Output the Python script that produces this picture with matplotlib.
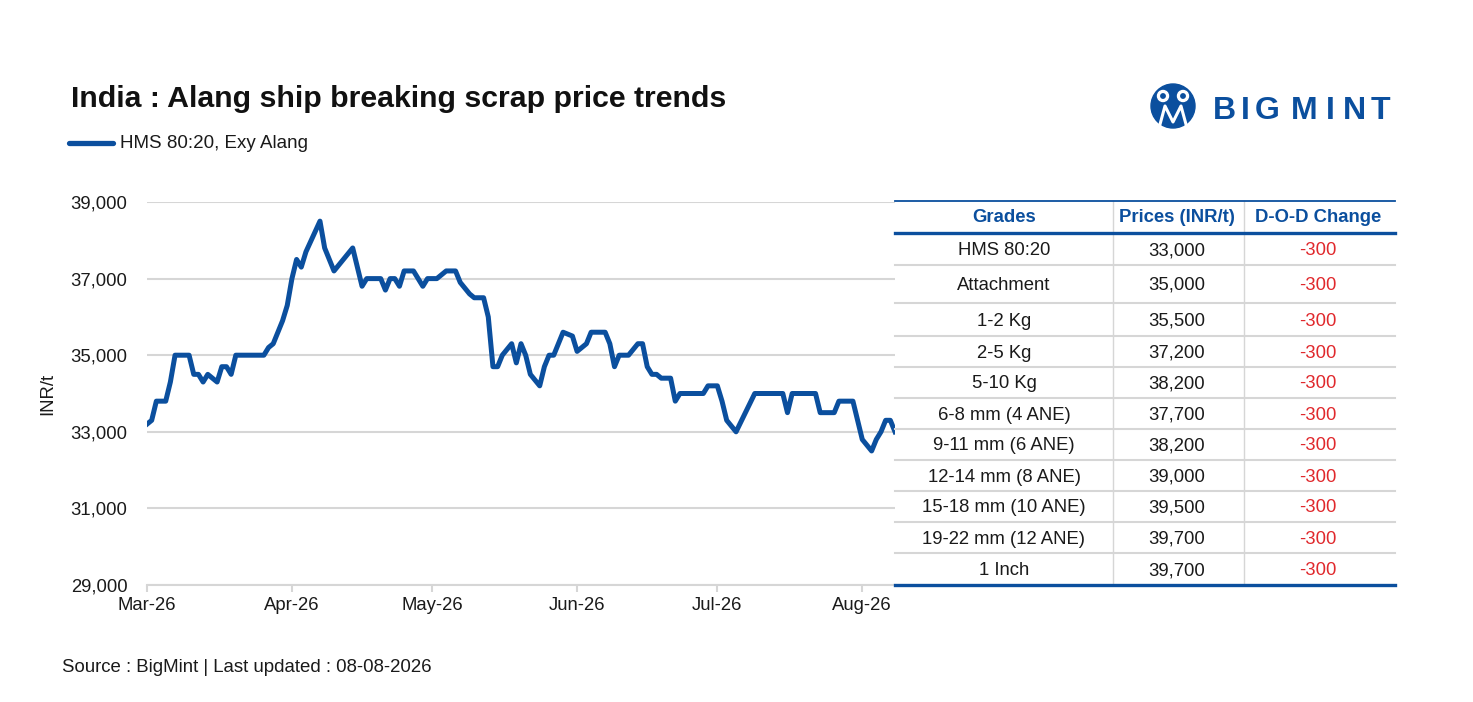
import matplotlib
matplotlib.use("Agg")
import matplotlib.pyplot as plt
import matplotlib.dates as mdates
from matplotlib.ticker import FuncFormatter
from matplotlib.patches import Circle
import pandas as pd

plt.rcParams['font.family'] = ['Liberation Sans', 'DejaVu Sans']

# HMS 80:20, Exy Alang (INR/t)
dates = [
    "2026-03-01", "2026-03-02", "2026-03-03", "2026-03-05", "2026-03-06", "2026-03-07",
    "2026-03-10", "2026-03-11", "2026-03-12", "2026-03-13", "2026-03-14", "2026-03-16",
    "2026-03-17", "2026-03-18", "2026-03-19", "2026-03-20", "2026-03-26", "2026-03-27",
    "2026-03-28", "2026-03-29", "2026-03-30", "2026-03-31",
    "2026-04-01", "2026-04-02", "2026-04-03", "2026-04-04", "2026-04-07", "2026-04-08",
    "2026-04-10", "2026-04-14", "2026-04-16", "2026-04-17", "2026-04-20", "2026-04-21",
    "2026-04-22", "2026-04-23", "2026-04-24", "2026-04-25", "2026-04-27", "2026-04-29",
    "2026-04-30",
    "2026-05-02", "2026-05-04", "2026-05-06", "2026-05-07", "2026-05-09", "2026-05-10",
    "2026-05-12", "2026-05-13", "2026-05-14", "2026-05-15", "2026-05-16", "2026-05-18",
    "2026-05-19", "2026-05-20", "2026-05-21", "2026-05-22", "2026-05-24", "2026-05-25",
    "2026-05-26", "2026-05-27", "2026-05-29", "2026-05-31",
    "2026-06-01", "2026-06-03", "2026-06-04", "2026-06-07", "2026-06-08", "2026-06-09",
    "2026-06-10", "2026-06-12", "2026-06-14", "2026-06-15", "2026-06-16", "2026-06-17",
    "2026-06-18", "2026-06-19", "2026-06-21", "2026-06-22", "2026-06-23", "2026-06-28",
    "2026-06-29",
    "2026-07-01", "2026-07-02", "2026-07-03", "2026-07-05", "2026-07-09", "2026-07-15",
    "2026-07-16", "2026-07-17", "2026-07-22", "2026-07-23", "2026-07-26", "2026-07-27",
    "2026-07-30",
    "2026-08-01", "2026-08-03", "2026-08-04", "2026-08-05", "2026-08-06", "2026-08-07",
    "2026-08-08",
]
prices = [
    33200, 33300, 33800, 33800, 34300, 35000,
    35000, 34500, 34500, 34300, 34500, 34300,
    34700, 34700, 34500, 35000, 35000, 35200,
    35300, 35600, 35900, 36300,
    37000, 37500, 37300, 37700, 38500, 37800,
    37200, 37800, 36800, 37000, 37000, 36700,
    37000, 37000, 36800, 37200, 37200, 36800,
    37000,
    37000, 37200, 37200, 36900, 36600, 36500,
    36500, 36000, 34700, 34700, 35000, 35300,
    34800, 35300, 35000, 34500, 34200, 34700,
    35000, 35000, 35600, 35500,
    35100, 35300, 35600, 35600, 35300, 34700,
    35000, 35000, 35300, 35300, 34700, 34500,
    34500, 34400, 34400, 33800, 34000, 34000,
    34200,
    34200, 33800, 33300, 33000, 34000, 34000,
    33500, 34000, 34000, 33500, 33500, 33800,
    33800,
    32800, 32500, 32800, 33000, 33300, 33300,
    33000,
]

headers = ["Grades", "Prices (INR/t)", "D-O-D Change"]
grades = ["HMS 80:20", "Attachment", "1-2 Kg", "2-5 Kg", "5-10 Kg", "6-8 mm (4 ANE)",
          "9-11 mm (6 ANE)", "12-14 mm (8 ANE)", "15-18 mm (10 ANE)", "19-22 mm (12 ANE)",
          "1 Inch"]
grade_prices = [33000, 35000, 35500, 37200, 38200, 37700, 38200, 39000, 39500, 39700, 39700]
dod_change = [-300, -300, -300, -300, -300, -300, -300, -300, -300, -300, -300]

BLUE = "#0b4f9e"
RED = "#e0282c"
GRID = "#d6d6d6"
TXT = "#1a1a1a"

W, H = 1473, 702
fig = plt.figure(figsize=(W / 100, H / 100), dpi=100)


def fx(x):
    return x / W


def fy(y):
    return 1 - y / H


# --- line chart ---
ax = fig.add_axes([fx(147), fy(585), (895 - 147) / W, (585 - 202) / H])
ax.plot(pd.to_datetime(dates), prices, color=BLUE, lw=3.6,
        solid_joinstyle='round', zorder=3)
ax.set_xlim(pd.Timestamp("2026-03-01"), pd.Timestamp("2026-08-08"))
ax.set_ylim(29000, 39000)
ax.set_yticks(range(29000, 39001, 2000))
ax.yaxis.set_major_formatter(FuncFormatter(lambda v, p: f"{v:,.0f}"))
ax.xaxis.set_major_locator(mdates.MonthLocator())
ax.xaxis.set_major_formatter(mdates.DateFormatter("%b-%y"))
ax.grid(axis='y', color=GRID, lw=1.5)
ax.set_axisbelow(True)
for s in ['top', 'right', 'left']:
    ax.spines[s].set_visible(False)
ax.spines['bottom'].set_color(GRID)
ax.spines['bottom'].set_linewidth(1.5)
ax.tick_params(axis='y', length=0, pad=14, labelsize=13.3, labelcolor=TXT)
ax.tick_params(axis='x', length=5, width=1.5, color=GRID, pad=4,
               labelsize=13.3, labelcolor=TXT)
ax.set_ylabel("INR/t", fontsize=13.3, color=TXT)
ax.yaxis.set_label_coords((56 - 147) / 748, 0.5)

# --- titles ---
fig.text(fx(71), fy(99), "India : Alang ship breaking scrap price trends",
         fontsize=21.8, fontweight='bold', color="#111111", va='center')
fig.lines.append(plt.Line2D([fx(69), fx(113)], [fy(143), fy(143)],
                            transform=fig.transFigure, color=BLUE, lw=3.8,
                            solid_capstyle='round'))
fig.text(fx(120), fy(143), "HMS 80:20, Exy Alang", fontsize=13.5, color=TXT, va='center')
fig.text(fx(62), fy(667), "Source : BigMint | Last updated : 08-08-2026",
         fontsize=13.4, color=TXT, va='center')

# --- table ---
tx0, tx1 = 895, 1395
ty0 = 201
header_h = 32
row_h = [32, 38, 33, 31, 31, 31, 31, 31, 31, 31, 32]
col_sep = [1112.5, 1243.5]
col_cx = [1004, 1177, 1318]

tax = fig.add_axes([0, 0, 1, 1])
tax.set_xlim(0, W)
tax.set_ylim(H, 0)
tax.axis('off')

y_bottom = ty0 + header_h + sum(row_h)
for cx in col_sep:
    tax.plot([cx, cx], [ty0, y_bottom], color=GRID, lw=1.0)
tax.plot([tx0, tx1], [ty0, ty0], color=BLUE, lw=1.3)
for cx, h in zip(col_cx, headers):
    tax.text(cx, ty0 + header_h / 2 + 1, h, ha='center', va='center', fontsize=13.3,
             fontweight='bold', color=BLUE)

y = ty0 + header_h
for i, (g, p, c) in enumerate(zip(grades, grade_prices, dod_change)):
    yc = y + row_h[i] / 2 + 1.5
    tax.text(col_cx[0], yc, g, ha='center', va='center', fontsize=13.3, color=TXT)
    tax.text(col_cx[1], yc, f"{p:,}", ha='center', va='center', fontsize=13.3, color=TXT)
    tax.text(col_cx[2], yc, f"{c}", ha='center', va='center', fontsize=13.3, color=RED)
    y += row_h[i]
    if i < len(grades) - 1:
        tax.plot([tx0, tx1], [y, y], color=GRID, lw=1.5)
tax.plot([tx0, tx1], [ty0 + header_h, ty0 + header_h], color=BLUE, lw=2.4)
tax.plot([tx0, tx1], [y_bottom, y_bottom], color=BLUE, lw=2.4)

# --- logo ---
tax.add_patch(Circle((1173, 106), 22, color=BLUE))
for hx in (1163, 1183):
    tax.add_patch(Circle((hx, 96), 5.5, color='white'))
    tax.add_patch(Circle((hx, 96), 2.2, color=BLUE))
tax.plot([1159, 1165, 1173, 1181, 1187], [128, 106, 122, 106, 128], color='white', lw=2.2)
letters = "BIGMINT"
letter_cx = [1224, 1245, 1267.5, 1304, 1330, 1354.5, 1380]
for ch, lx in zip(letters, letter_cx):
    tax.text(lx, 111, ch, ha='center', va='center', fontsize=23,
             fontweight='bold', color=BLUE)

fig.savefig("out.png", dpi=100)
